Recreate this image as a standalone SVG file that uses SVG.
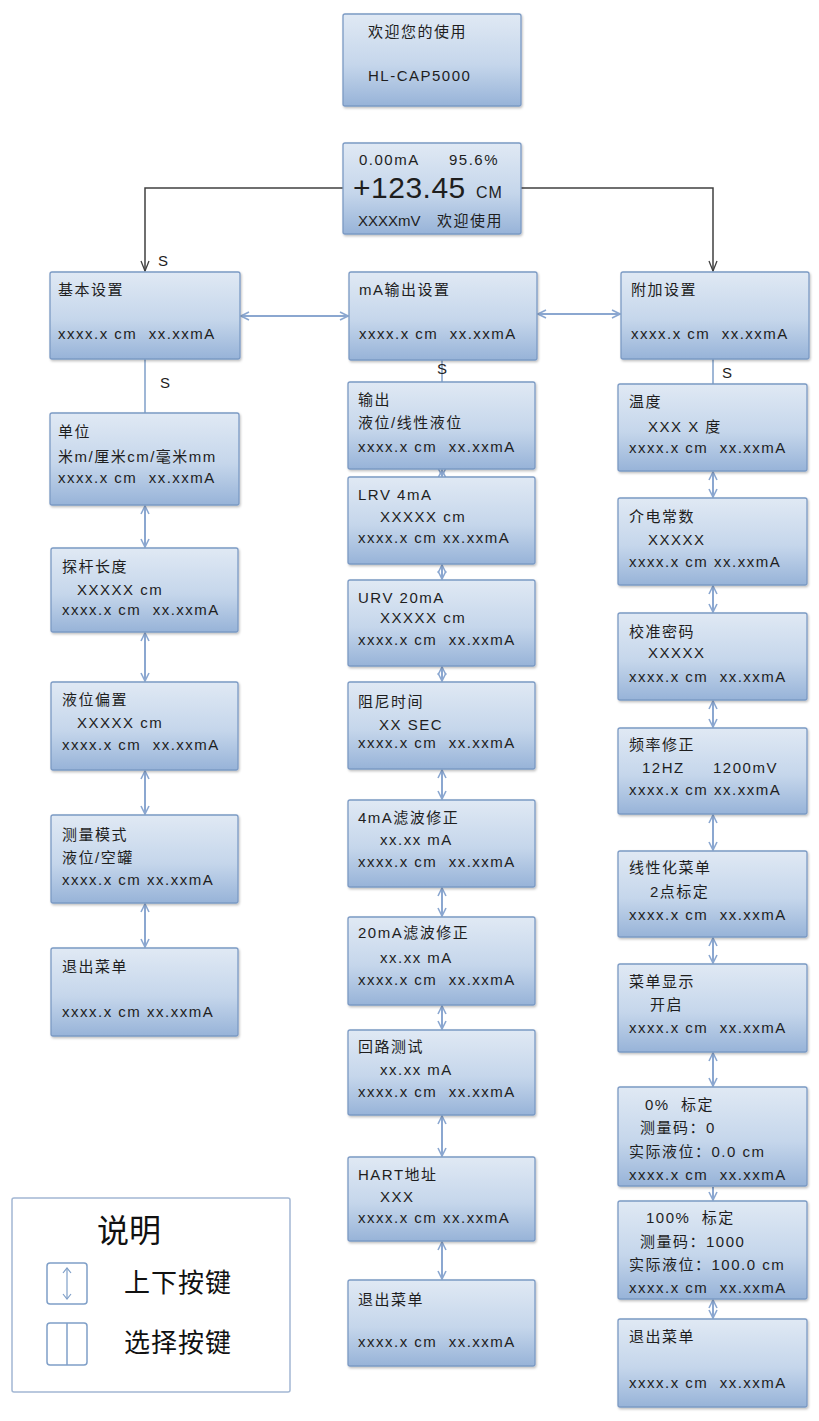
<svg xmlns="http://www.w3.org/2000/svg" width="819" height="1421" viewBox="0 0 819 1421">
<defs>
<linearGradient id="g" x1="0" y1="0" x2="0" y2="1">
<stop offset="0" stop-color="#e0e9f4"/>
<stop offset="0.55" stop-color="#c5d6eb"/>
<stop offset="1" stop-color="#97b3d8"/>
</linearGradient>
<filter id="sh" x="-5%" y="-5%" width="115%" height="115%">
<feDropShadow dx="1" dy="1.5" stdDeviation="1" flood-color="#000" flood-opacity="0.25"/>
</filter>
<marker id="ab" viewBox="0 0 10 10" refX="9" refY="5" markerWidth="10" markerHeight="10" markerUnits="userSpaceOnUse" orient="auto-start-reverse">
<path d="M1,1 L9,5 L1,9" fill="none" stroke="#8ba7d0" stroke-width="1.6"/>
</marker>
<marker id="ak" viewBox="0 0 10 12" refX="5" refY="11" markerWidth="10" markerHeight="12" markerUnits="userSpaceOnUse" orient="0">
<path d="M1,1 L5,11 L9,1" fill="none" stroke="#404040" stroke-width="1.3"/>
</marker>
</defs>
<style>
.box{fill:url(#g);stroke:#7b9ac4;stroke-width:1.3;filter:url(#sh)}
.t{font-family:"Liberation Sans","Noto Sans CJK SC",sans-serif;font-size:15px;letter-spacing:1.5px;fill:#1e1e1e;white-space:pre}
.s{font-family:"Liberation Sans",sans-serif;font-size:15px;fill:#1e1e1e}
.k{stroke:#404040;stroke-width:1.5;fill:none}
.c{stroke:#8ba7d0;stroke-width:2;fill:none;marker-start:url(#ab);marker-end:url(#ab)}
.d{stroke:#8ba7d0;stroke-width:2;fill:none;marker-end:url(#ab)}
.p{stroke:#7f9fc8;stroke-width:1.5;fill:none}
.lg{font-family:"Noto Sans CJK SC",sans-serif;fill:#111}
</style>
<rect width="819" height="1421" fill="#fff"/>

<g id="connectors">
<path class="k" d="M343,188 H145 V271" marker-end="url(#ak)"/>
<path class="k" d="M521,188 H713 V271" marker-end="url(#ak)"/>
<line class="c" x1="241" y1="316" x2="348" y2="316"/>
<line class="c" x1="538" y1="314" x2="620" y2="314"/>
<line class="p" x1="145" y1="359" x2="145" y2="413"/>
<line class="p" x1="442" y1="360" x2="442" y2="382"/>
<line class="p" x1="713" y1="359" x2="713" y2="384"/>
<line class="c" x1="145" y1="506" x2="145" y2="547"/>
<line class="c" x1="145" y1="633" x2="145" y2="681"/>
<line class="c" x1="145" y1="771" x2="145" y2="814"/>
<line class="c" x1="145" y1="904" x2="145" y2="947"/>
<line class="c" x1="442" y1="470" x2="442" y2="476"/>
<line class="c" x1="442" y1="565" x2="442" y2="579"/>
<line class="c" x1="442" y1="667" x2="442" y2="681"/>
<line class="c" x1="442" y1="770" x2="442" y2="799"/>
<line class="c" x1="442" y1="888" x2="442" y2="916"/>
<line class="c" x1="442" y1="1006" x2="442" y2="1029"/>
<line class="c" x1="442" y1="1116" x2="442" y2="1156"/>
<line class="c" x1="442" y1="1242" x2="442" y2="1279"/>
<line class="c" x1="713" y1="472" x2="713" y2="497"/>
<line class="c" x1="713" y1="586" x2="713" y2="612"/>
<line class="c" x1="713" y1="701" x2="713" y2="727"/>
<line class="c" x1="713" y1="815" x2="713" y2="850"/>
<line class="c" x1="713" y1="938" x2="713" y2="963"/>
<line class="c" x1="713" y1="1053" x2="713" y2="1086"/>
<line class="d" x1="713" y1="1187" x2="713" y2="1200"/>
<line class="c" x1="713" y1="1300" x2="713" y2="1318"/>
<text class="s" x="158" y="266">S</text>
<text class="s" x="160" y="388">S</text>
<text class="s" x="437" y="374">S</text>
<text class="s" x="722" y="378">S</text>
</g>

<g id="n_welcome"><rect class="box" x="343" y="14" width="178" height="92" rx="2"/>
<text class="t" x="368" y="37">欢迎您的使用</text>
<text class="t" x="368" y="81">HL-CAP5000</text></g>

<g id="n_main"><rect class="box" x="343" y="143" width="178" height="91" rx="2"/>
<text class="t" x="359" y="165">0.00mA</text>
<text class="t" x="449" y="165">95.6%</text>
<text class="t" x="353" y="198" style="font-size:30px;letter-spacing:0.5px">+123.45</text>
<text class="t" x="476" y="198" style="font-size:16px;letter-spacing:1px">CM</text>
<text class="t" x="358" y="226" style="letter-spacing:0">XXXXmV</text>
<text class="t" x="437" y="226">欢迎使用</text></g>

<g id="n_basic"><rect class="box" x="50" y="272" width="190" height="87" rx="2"/>
<text class="t" x="58" y="295">基本设置</text>
<text class="t" x="58" y="339">xxxx.x cm  xx.xxmA</text></g>

<g id="n_maout"><rect class="box" x="349" y="272" width="188" height="88" rx="2"/>
<text class="t" x="359" y="295">mA输出设置</text>
<text class="t" x="359" y="339">xxxx.x cm  xx.xxmA</text></g>

<g id="n_extra"><rect class="box" x="621" y="272" width="188" height="87" rx="2"/>
<text class="t" x="631" y="295">附加设置</text>
<text class="t" x="631" y="339">xxxx.x cm  xx.xxmA</text></g>

<g id="n_unit"><rect class="box" x="50" y="413" width="189" height="92" rx="2"/>
<text class="t" x="58" y="437">单位</text>
<text class="t" x="58" y="462">米m/厘米cm/毫米mm</text>
<text class="t" x="58" y="483">xxxx.x cm  xx.xxmA</text></g>

<g id="n_probe"><rect class="box" x="51" y="548" width="187" height="84" rx="2"/>
<text class="t" x="62" y="572">探杆长度</text>
<text class="t" x="77" y="595">XXXXX cm</text>
<text class="t" x="62" y="615">xxxx.x cm  xx.xxmA</text></g>

<g id="n_offset"><rect class="box" x="51" y="682" width="187" height="88" rx="2"/>
<text class="t" x="62" y="705">液位偏置</text>
<text class="t" x="77" y="728">XXXXX cm</text>
<text class="t" x="62" y="750">xxxx.x cm  xx.xxmA</text></g>

<g id="n_mode"><rect class="box" x="51" y="815" width="187" height="88" rx="2"/>
<text class="t" x="62" y="840">测量模式</text>
<text class="t" x="62" y="863">液位/空罐</text>
<text class="t" x="62" y="885">xxxx.x cm xx.xxmA</text></g>

<g id="n_exit1"><rect class="box" x="51" y="948" width="187" height="88" rx="2"/>
<text class="t" x="62" y="972">退出菜单</text>
<text class="t" x="62" y="1017">xxxx.x cm xx.xxmA</text></g>

<g id="n_output"><rect class="box" x="348" y="382" width="187" height="87" rx="2"/>
<text class="t" x="358" y="405">输出</text>
<text class="t" x="358" y="428">液位/线性液位</text>
<text class="t" x="358" y="452">xxxx.x cm  xx.xxmA</text></g>

<g id="n_lrv"><rect class="box" x="348" y="477" width="187" height="87" rx="2"/>
<text class="t" x="358" y="500">LRV 4mA</text>
<text class="t" x="380" y="522">XXXXX cm</text>
<text class="t" x="358" y="543">xxxx.x cm xx.xxmA</text></g>

<g id="n_urv"><rect class="box" x="348" y="580" width="187" height="86" rx="2"/>
<text class="t" x="358" y="603">URV 20mA</text>
<text class="t" x="380" y="623">XXXXX cm</text>
<text class="t" x="358" y="645">xxxx.x cm  xx.xxmA</text></g>

<g id="n_damp"><rect class="box" x="348" y="682" width="187" height="87" rx="2"/>
<text class="t" x="358" y="707">阻尼时间</text>
<text class="t" x="379" y="730">XX SEC</text>
<text class="t" x="358" y="748">xxxx.x cm  xx.xxmA</text></g>

<g id="n_4ma"><rect class="box" x="348" y="800" width="187" height="87" rx="2"/>
<text class="t" x="358" y="823">4mA滤波修正</text>
<text class="t" x="380" y="845">xx.xx mA</text>
<text class="t" x="358" y="867">xxxx.x cm  xx.xxmA</text></g>

<g id="n_20ma"><rect class="box" x="348" y="917" width="187" height="88" rx="2"/>
<text class="t" x="358" y="938">20mA滤波修正</text>
<text class="t" x="380" y="963">xx.xx mA</text>
<text class="t" x="358" y="985">xxxx.x cm  xx.xxmA</text></g>

<g id="n_loop"><rect class="box" x="348" y="1030" width="187" height="85" rx="2"/>
<text class="t" x="358" y="1052">回路测试</text>
<text class="t" x="380" y="1075">xx.xx mA</text>
<text class="t" x="358" y="1097">xxxx.x cm  xx.xxmA</text></g>

<g id="n_hart"><rect class="box" x="348" y="1157" width="187" height="84" rx="2"/>
<text class="t" x="358" y="1180">HART地址</text>
<text class="t" x="380" y="1202">XXX</text>
<text class="t" x="358" y="1223">xxxx.x cm xx.xxmA</text></g>

<g id="n_exit2"><rect class="box" x="348" y="1280" width="187" height="86" rx="2"/>
<text class="t" x="358" y="1305">退出菜单</text>
<text class="t" x="358" y="1347">xxxx.x cm  xx.xxmA</text></g>

<g id="n_temp"><rect class="box" x="618" y="384" width="189" height="87" rx="2"/>
<text class="t" x="629" y="407">温度</text>
<text class="t" x="648" y="432">XXX X 度</text>
<text class="t" x="629" y="453">xxxx.x cm  xx.xxmA</text></g>

<g id="n_diel"><rect class="box" x="618" y="498" width="189" height="87" rx="2"/>
<text class="t" x="629" y="522">介电常数</text>
<text class="t" x="648" y="545">XXXXX</text>
<text class="t" x="629" y="567">xxxx.x cm xx.xxmA</text></g>

<g id="n_pwd"><rect class="box" x="618" y="613" width="189" height="87" rx="2"/>
<text class="t" x="629" y="637">校准密码</text>
<text class="t" x="648" y="658">XXXXX</text>
<text class="t" x="629" y="682">xxxx.x cm  xx.xxmA</text></g>

<g id="n_freq"><rect class="box" x="618" y="728" width="189" height="86" rx="2"/>
<text class="t" x="629" y="750">频率修正</text>
<text class="t" x="642" y="773">12HZ     1200mV</text>
<text class="t" x="629" y="795">xxxx.x cm xx.xxmA</text></g>

<g id="n_lin"><rect class="box" x="618" y="851" width="189" height="86" rx="2"/>
<text class="t" x="629" y="873">线性化菜单</text>
<text class="t" x="650" y="897">2点标定</text>
<text class="t" x="629" y="920">xxxx.x cm  xx.xxmA</text></g>

<g id="n_disp"><rect class="box" x="618" y="964" width="189" height="88" rx="2"/>
<text class="t" x="629" y="987">菜单显示</text>
<text class="t" x="650" y="1010">开启</text>
<text class="t" x="629" y="1033">xxxx.x cm  xx.xxmA</text></g>

<g id="n_cal0"><rect class="box" x="618" y="1087" width="189" height="99" rx="2"/>
<text class="t" x="645" y="1110">0%  标定</text>
<text class="t" x="640" y="1133">测量码：0</text>
<text class="t" x="629" y="1157">实际液位：0.0 cm</text>
<text class="t" x="629" y="1180">xxxx.x cm  xx.xxmA</text></g>

<g id="n_cal100"><rect class="box" x="618" y="1201" width="189" height="98" rx="2"/>
<text class="t" x="646" y="1223">100%  标定</text>
<text class="t" x="640" y="1247">测量码：1000</text>
<text class="t" x="629" y="1270">实际液位：100.0 cm</text>
<text class="t" x="629" y="1293">xxxx.x cm  xx.xxmA</text></g>

<g id="n_exit3"><rect class="box" x="618" y="1319" width="189" height="88" rx="2"/>
<text class="t" x="629" y="1342">退出菜单</text>
<text class="t" x="629" y="1388">xxxx.x cm  xx.xxmA</text></g>

<g id="legend">
<rect x="12" y="1198" width="278" height="194" fill="#fff" stroke="#a3b7d3" stroke-width="1.5" rx="2"/>
<text class="lg" x="97" y="1242" style="font-size:32px">说明</text>
<rect x="47" y="1263" width="40" height="41" rx="3" class="p"/>
<line x1="67" y1="1268" x2="67" y2="1299" stroke="#7f9fc8" stroke-width="1.2"/>
<path d="M63,1273 L67,1268 L71,1273 M63,1294 L67,1299 L71,1294" fill="none" stroke="#7f9fc8" stroke-width="1.2"/>
<text class="lg" x="124" y="1292" style="font-size:26px;letter-spacing:1px">上下按键</text>
<rect x="47" y="1323" width="40" height="42" rx="3" class="p"/>
<line x1="67" y1="1323" x2="67" y2="1365" stroke="#7f9fc8" stroke-width="1.5"/>
<text class="lg" x="124" y="1352" style="font-size:26px;letter-spacing:1px">选择按键</text>
</g>
</svg>
